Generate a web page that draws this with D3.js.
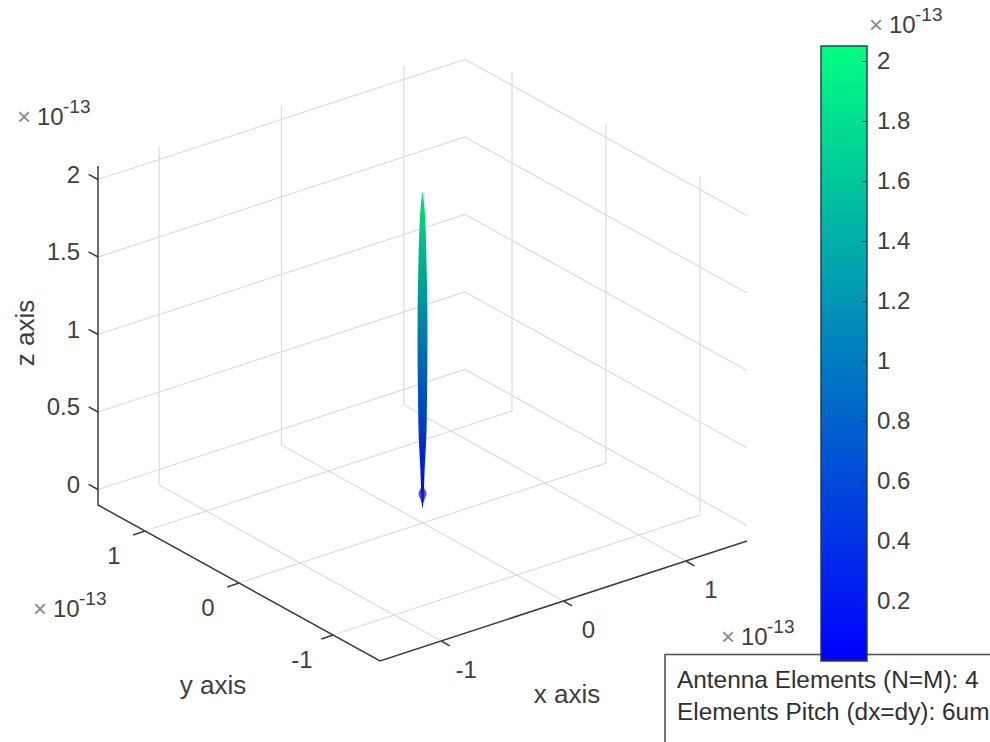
<!DOCTYPE html>
<html><head><meta charset="utf-8">
<script src="https://cdnjs.cloudflare.com/ajax/libs/d3/7.8.5/d3.min.js"></script>
<style>html,body{margin:0;padding:0;background:#fff;overflow:hidden}svg{display:block}text{font-family:"Liberation Sans",Arial,sans-serif;fill:#404040}</style>
</head><body><svg id="c" width="990" height="742"></svg>
<script>
const xTicks=[-1,0,1], yTicks=[-1,0,1], zTicks=[0,0.5,1,1.5,2];
const zTickLabels=["0","0.5","1","1.5","2"];
const cbTicks=[0.2,0.4,0.6,0.8,1,1.2,1.4,1.6,1.8,2];
const xDomain=[-1.5,1.5], yDomain=[-1.5,1.5], zDomain=[-0.1,2.087], cbDomain=[0,2.05];
// spindle surface: height z (x1e-13) and radius (x1e-13)
const spindleZ=[0,0.05,0.14,0.25,0.4,0.5,0.7,1.0,1.2,1.4,1.55,1.68,1.8,1.92,1.98,2.03];
const spindleR=[0.002,0.006,0.01,0.014,0.022,0.026,0.029,0.032,0.032,0.03,0.027,0.024,0.02,0.014,0.008,0.002];
// small flare near the lower tip
const flareZ=[0.03,0.06,0.085,0.105,0.13];
const flareR=[0.006,0.016,0.026,0.022,0.006];
const annotation=["Antenna Elements (N=M): 4","Elements Pitch (dx=dy): 6um"];

const svg=d3.select("#c");
// oblique projection built from per-axis linear scales
const xSX=d3.scaleLinear().domain(xDomain).range([0,367]);
const xSY=d3.scaleLinear().domain(xDomain).range([0,-120]);
const ySX=d3.scaleLinear().domain(yDomain).range([0,-282]);
const ySY=d3.scaleLinear().domain(yDomain).range([0,-156]);
const zSY=d3.scaleLinear().domain(zDomain).range([0,-339]);
const P=(x,y,z)=>[380+xSX(x)+ySX(y), 661+xSY(x)+ySY(y)+zSY(z)];
const line=d3.line();
const [x0,x1]=xDomain,[y0,y1]=yDomain,[z0,z1]=zDomain;
const grid=svg.append("g").attr("fill","none").attr("stroke","#dcdcdc").attr("stroke-width",1.2);
const seg=(g,pts)=>g.append("path").attr("d",line(pts));
xTicks.forEach(x=>{seg(grid,[P(x,y0,z0),P(x,y1,z0),P(x,y1,z1)]);});
yTicks.forEach(y=>{seg(grid,[P(x0,y,z0),P(x1,y,z0),P(x1,y,z1)]);});
zTicks.forEach(z=>{seg(grid,[P(x0,y1,z),P(x1,y1,z),P(x1,y0,z)]);});

// axes
const ax=svg.append("g").attr("fill","none").attr("stroke","#3c3c3c").attr("stroke-width",1.5);
seg(ax,[P(x0,y1,z1),P(x0,y1,z0),P(x0,y0,z0),P(x1,y0,z0)]);
zTicks.forEach(z=>seg(ax,[P(x0,y1,z),P(x0,y1+0.1,z)]));
yTicks.forEach(y=>seg(ax,[P(x0,y,z0),P(x0+0.1,y,z0)].map((p,i)=>i?[p[0]-24,p[1]+8]:p)));
xTicks.forEach(x=>seg(ax,[P(x,y0,z0),P(x,y0+0.1,z0)].map((p,i)=>i?[p[0]+18,p[1]+10]:p)));

const FS=24;
const lab=(x,y,t,anchor="middle",size=FS)=>svg.append("text").attr("x",x).attr("y",y).attr("text-anchor",anchor).attr("dominant-baseline","central").attr("font-size",size).text(t);
zTicks.forEach((z,i)=>{const p=P(x0,y1,z);lab(p[0]-18,p[1]-5,zTickLabels[i],"end");});
yTicks.forEach(y=>{const p=P(x0,y,z0);lab(p[0]-31,p[1]+24,String(y));});
xTicks.forEach(x=>{const p=P(x,y0,z0);lab(p[0]+25,p[1]+28,String(x));});
lab(213,685,"y axis","middle",26);
lab(567,694,"x axis","middle",26);
svg.append("text").attr("transform","translate(25,333) rotate(-90)").attr("text-anchor","middle").attr("dominant-baseline","central").attr("font-size",26).text("z axis");

function exponent(x,base){
  svg.append("text").attr("x",x-1).attr("y",base-0.5).attr("font-size",24).style("fill","#8a8a8a").text("\u00d7");
  svg.append("text").attr("x",x+19).attr("y",base).attr("font-size",FS).text("10");
  svg.append("text").attr("x",x+45).attr("y",base-12).attr("font-size",19).text("-13");
}
exponent(18,125);exponent(34,617);exponent(722,645);exponent(870,33);

// colormap
const winter=d3.scaleLinear().domain(cbDomain).range(["rgb(0,0,255)","rgb(0,255,128)"]);
const cbStops=[0,0.5,1,1.5,2,2.05];

// spindle
const defs=svg.append("defs");
const zPix=z=>P(0,0,z)[1];
const sg=defs.append("linearGradient").attr("id","sp").attr("gradientUnits","userSpaceOnUse")
  .attr("x1",0).attr("x2",0).attr("y1",zPix(0)).attr("y2",zPix(2.05));
cbStops.forEach(v=>sg.append("stop").attr("offset",v/2.05).attr("stop-color",d3.color(winter(v)).darker(0.3)));
defs.append("filter").attr("id","soft").append("feGaussianBlur").attr("stdDeviation",0.5);
const rPx=r=>Math.hypot(xSX(r)-xSX(0),ySX(r)-ySX(0));
const area=d3.area().x0(d=>P(0,0,0)[0]-rPx(d.r)).x1(d=>P(0,0,0)[0]+rPx(d.r)).y(d=>zPix(d.z)).curve(d3.curveMonotoneY);
svg.append("path").attr("d",area(flareZ.map((z,i)=>({z,r:flareR[i]})))).attr("fill","#5a50e0").attr("filter","url(#soft)");
svg.append("path").attr("d",area(spindleZ.map((z,i)=>({z,r:spindleR[i]})))).attr("fill","url(#sp)").attr("filter","url(#soft)");

// annotation box
svg.append("rect").attr("x",665).attr("y",654.5).attr("width",400).attr("height",150).attr("fill","#fff").attr("stroke","#555").attr("stroke-width",1.6);
annotation.forEach((t,i)=>svg.append("text").attr("x",677).attr("y",688+i*32).attr("font-size",24.4).style("fill","#303030").text(t));

// colorbar
const cbY=d3.scaleLinear().domain(cbDomain).range([661,46]);
const cg=defs.append("linearGradient").attr("id","cb").attr("x1",0).attr("x2",0).attr("y1",1).attr("y2",0);
cbStops.forEach(v=>cg.append("stop").attr("offset",v/2.05).attr("stop-color",winter(v)));
svg.append("rect").attr("x",821).attr("y",46).attr("width",46).attr("height",615).attr("fill","url(#cb)").attr("stroke","#1c3c4c").attr("stroke-width",1.4);
const cbAxis=d3.axisRight(cbY).tickValues(cbTicks).tickFormat(d3.format("~g")).tickSizeInner(-5).tickSizeOuter(0).tickPadding(10);
const cbg=svg.append("g").attr("transform","translate(867,0)").call(cbAxis);
cbg.select(".domain").remove();
cbg.selectAll("line").attr("stroke","#263a40");
cbg.selectAll("text").attr("font-size",FS).attr("font-family",null).style("fill","#404040").attr("dy","0.32em");
</script></body></html>
